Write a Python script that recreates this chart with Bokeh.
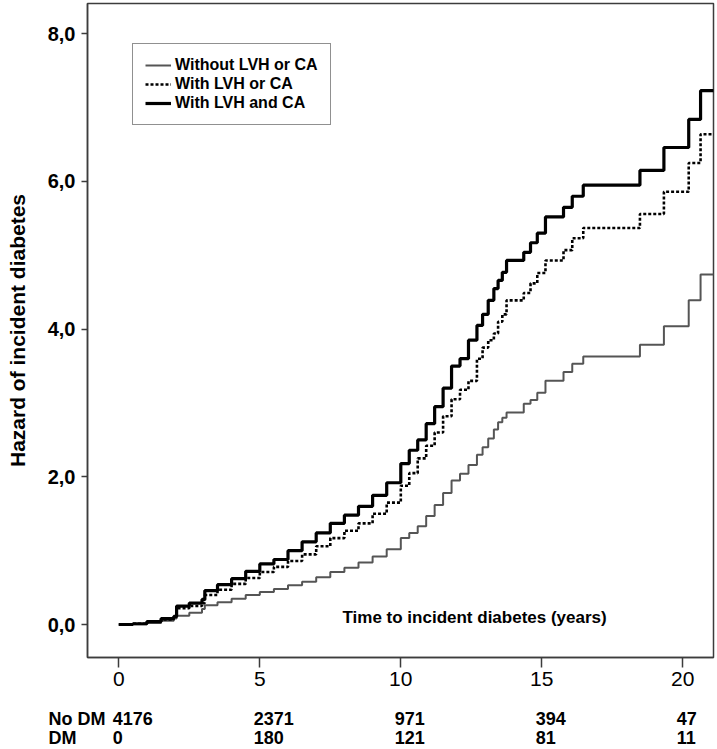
from bokeh.plotting import figure
from bokeh.models import (Range1d, FixedTicker, CustomJSTickFormatter, Legend,
                          LegendItem, Label, ColumnDataSource)
from bokeh.core.properties import value
from bokeh.embed import file_html
from bokeh.resources import INLINE

# ---------------- data ----------------
times = [0, 0.5, 1.0, 1.5, 1.95, 2.05, 2.5, 2.95, 3.05, 3.5, 4.0, 4.5, 5.0, 5.5,
         6.0, 6.5, 7.0, 7.5, 8.0, 8.5, 9.0, 9.5, 10.0, 10.3, 10.6, 10.9, 11.2,
         11.5, 11.8, 12.1, 12.4, 12.7, 12.9, 13.1, 13.3, 13.45, 13.6, 13.75,
         14.36, 14.6, 14.84, 15.13, 15.77, 16.08, 16.47, 18.48, 19.33, 20.21,
         20.63, 21.1]

haz_without = [0, 0.005, 0.02, 0.05, 0.08, 0.12, 0.16, 0.21, 0.26, 0.30, 0.35,
               0.40, 0.44, 0.48, 0.53, 0.58, 0.64, 0.71, 0.77, 0.84, 0.92, 1.02,
               1.17, 1.24, 1.33, 1.47, 1.62, 1.78, 1.95, 2.04, 2.16, 2.30, 2.40,
               2.52, 2.64, 2.74, 2.80, 2.87, 2.99, 3.04, 3.14, 3.30, 3.42, 3.53,
               3.63, 3.79, 4.04, 4.39, 4.74, 4.74]

haz_one = [0, 0.01, 0.04, 0.07, 0.10, 0.22, 0.25, 0.29, 0.40, 0.47, 0.55, 0.63,
           0.71, 0.78, 0.86, 0.95, 1.06, 1.17, 1.27, 1.37, 1.50, 1.65, 1.88,
           2.05, 2.25, 2.42, 2.60, 2.82, 3.05, 3.18, 3.30, 3.60, 3.75, 3.85,
           3.94, 4.10, 4.20, 4.39, 4.49, 4.62, 4.76, 4.93, 5.07, 5.23, 5.37,
           5.56, 5.86, 6.25, 6.64, 6.64]

haz_both = [0, 0.01, 0.04, 0.08, 0.11, 0.25, 0.29, 0.34, 0.46, 0.54, 0.62, 0.72,
            0.82, 0.88, 1.00, 1.12, 1.24, 1.37, 1.48, 1.60, 1.75, 1.92, 2.18,
            2.36, 2.50, 2.72, 2.95, 3.20, 3.50, 3.60, 3.85, 4.05, 4.20, 4.39,
            4.55, 4.66, 4.77, 4.93, 5.04, 5.17, 5.30, 5.52, 5.65, 5.80, 5.95,
            6.15, 6.46, 6.84, 7.23, 7.23]

series_names = ["Without LVH or CA", "With LVH or CA", "With LVH and CA"]

risk_times = [0, 5, 10, 15, 20]
no_dm_counts = [4176, 2371, 971, 394, 47]
dm_counts = [0, 180, 121, 81, 11]
row_names = ["No DM", "DM"]

x_ticks = [0, 5, 10, 15, 20]
y_ticks = [0, 2, 4, 6, 8]
x_title = "Time to incident diabetes (years)"
y_title = "Hazard of incident diabetes"

# ---------------- layout constants (pixels, page coordinates) -------------
FONT = "Liberation Sans"
FRAME_COL = "#3c3c3c"
PX_PER_YEAR = 28.2
PX_PER_UNIT = 73.84
X0_PAGE = 118.3          # page x of time 0
Y0_PAGE = 624.0          # page y of hazard 0
FIG_W = 717
FRAME_L, FRAME_R, FRAME_T, FRAME_B = 87, 713, 3, 657
MAIN_H = 695
x_start = (FRAME_L - X0_PAGE) / PX_PER_YEAR
x_end = (FRAME_R - X0_PAGE) / PX_PER_YEAR
y_end = (Y0_PAGE - FRAME_T) / PX_PER_UNIT
y_start = (Y0_PAGE - FRAME_B) / PX_PER_UNIT

# ---------------- main figure ----------------
p = figure(width=FIG_W, height=MAIN_H,
           x_range=Range1d(x_start, x_end), y_range=Range1d(y_start, y_end),
           min_border_left=FRAME_L, min_border_right=FIG_W - FRAME_R,
           min_border_top=FRAME_T, min_border_bottom=MAIN_H - FRAME_B,
           output_backend="svg", toolbar_location=None)
p.background_fill_color = "white"
p.border_fill_color = "white"
p.outline_line_color = FRAME_COL
p.outline_line_width = 1.5
p.xgrid.visible = False
p.ygrid.visible = False

p.xaxis.ticker = FixedTicker(ticks=x_ticks)
p.xaxis.axis_line_color = FRAME_COL
p.xaxis.axis_line_width = 1.5
p.xaxis.major_tick_out = 10
p.xaxis.major_tick_in = 0
p.xaxis.major_tick_line_color = FRAME_COL
p.xaxis.major_tick_line_width = 1.5
p.xaxis.minor_tick_line_color = None
p.xaxis.major_label_standoff = 4
p.xaxis.major_label_text_font = FONT
p.xaxis.major_label_text_font_size = "21px"
p.xaxis.major_label_text_color = "black"

p.yaxis.ticker = FixedTicker(ticks=y_ticks)
p.yaxis.formatter = CustomJSTickFormatter(code="return tick.toFixed(1).replace('.', ',');")
p.yaxis.axis_line_color = FRAME_COL
p.yaxis.axis_line_width = 1.5
p.yaxis.major_tick_out = 6
p.yaxis.major_tick_in = 0
p.yaxis.major_tick_line_color = FRAME_COL
p.yaxis.major_tick_line_width = 1.5
p.yaxis.minor_tick_line_color = None
p.yaxis.major_label_standoff = 6
p.yaxis.major_label_text_font = FONT
p.yaxis.major_label_text_font_style = "bold"
p.yaxis.major_label_text_font_size = "20px"
p.yaxis.major_label_text_color = "black"
p.yaxis.axis_label = y_title
p.yaxis.axis_label_standoff = 16
p.yaxis.axis_label_text_font = FONT
p.yaxis.axis_label_text_font_style = "bold"
p.yaxis.axis_label_text_font_size = "21px"
p.yaxis.axis_label_text_color = "black"

r_without = p.step(times, haz_without, mode="after", line_color="#555555",
                   line_width=2)
r_one = p.step(times, haz_one, mode="after", line_color="black",
               line_width=2.6, line_dash="3 2")
r_both = p.step(times, haz_both, mode="after", line_color="black",
                line_width=3.2)

# legend box: top-left at page (132, 45); location is its bottom-left in frame px
LEG_PAD, LEG_ROW, LEG_SP = 12, 18, 1
leg_h = 2 * LEG_PAD + 3 * LEG_ROW + 2 * LEG_SP
legend = Legend(items=[LegendItem(label=series_names[0], renderers=[r_without]),
                       LegendItem(label=series_names[1], renderers=[r_one]),
                       LegendItem(label=series_names[2], renderers=[r_both])],
                location=(132 - FRAME_L, FRAME_B - (45 + leg_h)))
legend.border_line_color = "#222222"
legend.border_line_width = 1.5
legend.background_fill_color = "white"
legend.background_fill_alpha = 1
legend.padding = LEG_PAD
legend.spacing = LEG_SP
legend.margin = 0
legend.glyph_width = 26
legend.glyph_height = LEG_ROW
legend.label_height = LEG_ROW
legend.label_standoff = 4
legend.label_text_font = FONT
legend.label_text_font_style = "bold"
legend.label_text_font_size = "16px"
legend.label_text_color = "black"
p.add_layout(legend)

p.add_layout(Label(x=(342 - X0_PAGE) / PX_PER_YEAR, y=(Y0_PAGE - 617) / PX_PER_UNIT,
                   text=x_title, text_align="left",
                   text_baseline="middle", text_font=FONT,
                   text_font_style="bold", text_font_size="17px",
                   text_color="black"))

# ---------------- number-at-risk table (separate root, same x scale) -------
TAB_H = 53
t = figure(width=FIG_W, height=TAB_H, title=None,
           x_range=Range1d((0 - X0_PAGE) / PX_PER_YEAR, (FIG_W - X0_PAGE) / PX_PER_YEAR),
           y_range=Range1d(0, TAB_H),
           min_border=0, min_border_left=0, min_border_right=0,
           min_border_top=0, min_border_bottom=0,
           x_axis_location=None, y_axis_location=None,
           output_backend="svg", toolbar_location=None)
t.outline_line_color = None
t.xgrid.visible = False
t.ygrid.visible = False
t.background_fill_color = "white"
t.border_fill_color = "white"

# text centres, px above the bottom of the strip (page y 718 and 737)
row_mid = [MAIN_H + TAB_H - 718, MAIN_H + TAB_H - 737]
name_x = (48 - X0_PAGE) / PX_PER_YEAR
t.text(x=[name_x, name_x], y=row_mid, text=row_names,
       text_align="left", text_baseline="middle",
       text_font=value(FONT), text_font_style="bold",
       text_font_size="18px", text_color="black")
for counts, ym in zip([no_dm_counts, dm_counts], row_mid):
    src = ColumnDataSource(dict(x=risk_times, y=[ym] * len(risk_times),
                                s=[str(c) for c in counts]))
    t.text(x="x", y="y", text="s", source=src, x_offset=-6,
           text_align="left", text_baseline="middle",
           text_font=value(FONT), text_font_style="bold",
           text_font_size="18px", text_color="black")

open("out.html", "w").write(file_html([p, t], INLINE))
